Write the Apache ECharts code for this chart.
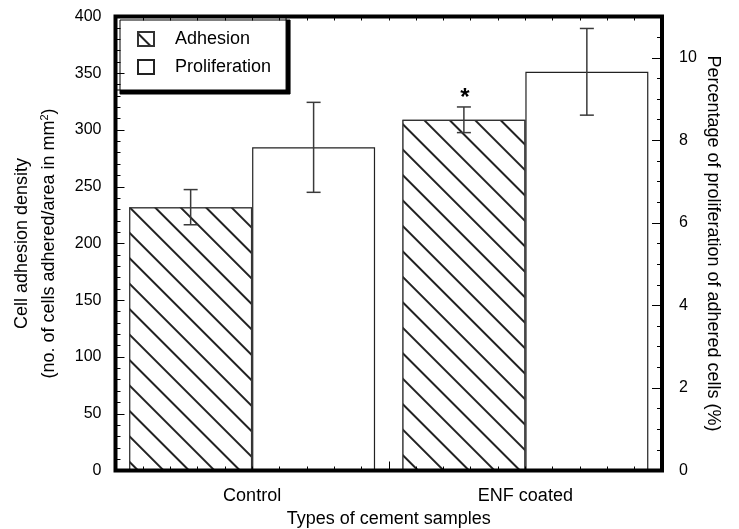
<!DOCTYPE html>
<html>
<head>
<meta charset="utf-8">
<script src="https://cdn.jsdelivr.net/npm/echarts@6/dist/echarts.min.js"></script>
<style>
html,body{margin:0;padding:0;background:#fff;}
#chart{width:739px;height:529px;}
</style>
</head>
<body>
<div id="chart"></div>
<script>
// ---- data ----
const categories = ['Control', 'ENF coated'];
const adhesion = [232, 309];
const adhesionErr = [15.5, 11.3];
const proliferation = [7.83, 9.66];
const proliferationErr = [1.09, 1.05];
const significance = ['', '*'];
const seriesNames = ['Adhesion', 'Proliferation'];
const xTitle = 'Types of cement samples';
const leftTitle1 = 'Cell adhesion density';
const leftTitle2 = '(no. of cells adhered/area in mm';
const rightTitle = 'Percentage of proliferation of adhered cells (%)';

const FONT = 'Liberation Sans, Arial, Helvetica, sans-serif';
const chart = echarts.init(document.getElementById('chart'), null, {renderer: 'canvas'});

const hatch = {
  symbol: 'rect', symbolSize: 1,
  dashArrayX: [1, 0], dashArrayY: [1.2, 15.6],
  rotation: Math.PI / 4,
  color: '#222', backgroundColor: '#fff'
};
const hatchLegend = {
  symbol: 'rect', symbolSize: 1,
  dashArrayX: [1, 0], dashArrayY: [1.2, 30],
  rotation: Math.PI / 4,
  color: '#222', backgroundColor: '#fff'
};

function errRender(sign, marks) {
  return function (params, api) {
    const i = params.dataIndex;
    const cat = api.value(0), v = api.value(1), e = api.value(2);
    const band = api.size([1, 0])[0];
    const x = api.coord([cat, v])[0] + sign * band * 0.225;
    const yT = api.coord([cat, v + e])[1];
    const yB = api.coord([cat, v - e])[1];
    const cap = 7;
    const st = {stroke: '#3a3a3a', lineWidth: 1.5};
    const children = [
      {type: 'line', shape: {x1: x, y1: yT, x2: x, y2: yB}, style: st},
      {type: 'line', shape: {x1: x - cap, y1: yT, x2: x + cap, y2: yT}, style: st},
      {type: 'line', shape: {x1: x - cap, y1: yB, x2: x + cap, y2: yB}, style: st}
    ];
    if (marks && marks[i]) {
      children.push({type: 'text', x: x + 1, y: yT + 3,
        style: {text: marks[i], fill: '#000', font: 'bold 24px ' + FONT, align: 'center', verticalAlign: 'bottom'}});
    }
    return {type: 'group', children: children};
  };
}

const minorXAxis = (pos) => ({
  type: 'value', position: pos, min: 0, max: 20, interval: 1, z: 11,
  axisLine: {show: false, onZero: false}, axisLabel: {show: false}, splitLine: {show: false},
  axisTick: {show: true, inside: true, length: 4, lineStyle: {color: '#000', width: 1}}
});

const option = {
  animation: false,
  backgroundColor: '#fff',
  textStyle: {fontFamily: FONT},
  grid: {left: 115.5, right: 77, top: 16.5, bottom: 58.5, show: true, containLabel: false,
    outerBoundsMode: 'none',
    borderColor: '#000', borderWidth: 4, backgroundColor: 'rgba(0,0,0,0)', z: 12},
  legend: {
    orient: 'vertical', left: 116, top: 16,
    data: [{name: seriesNames[0], itemStyle: {decal: hatchLegend}}, {name: seriesNames[1]}],
    icon: 'rect', itemWidth: 16, itemHeight: 14, itemGap: 10,
    padding: [14, 15, 14, 21],
    backgroundColor: '#fff', borderColor: '#000', borderWidth: 1,
    shadowColor: '#000', shadowBlur: 0, shadowOffsetX: 4, shadowOffsetY: 4,
    textStyle: {fontSize: 18, color: '#000', fontFamily: FONT, padding: [0, 0, 0, 16], lineHeight: 14},
    z: 5
  },
  xAxis: [
    {type: 'category', data: categories, position: 'bottom', z: 11,
      axisLine: {show: false, onZero: false},
      axisTick: {show: true, inside: true, length: 9, lineStyle: {color: '#000', width: 1}},
      axisLabel: {fontSize: 18, color: '#000', margin: 17, fontFamily: FONT},
      name: xTitle, nameLocation: 'middle', nameGap: 39,
      nameTextStyle: {fontSize: 18, color: '#000', fontFamily: FONT}
    },
    minorXAxis('bottom'),
    minorXAxis('top')
  ],
  yAxis: [
    {type: 'value', position: 'left', min: 0, max: 400, interval: 50, z: 11,
      axisLine: {show: false, onZero: false}, splitLine: {show: false},
      axisTick: {show: true, inside: true, length: 9, lineStyle: {color: '#000', width: 1}},
      minorTick: {show: true, splitNumber: 5, length: 5, lineStyle: {color: '#000', width: 1}},
      axisLabel: {fontSize: 16, color: '#000', margin: 14, fontFamily: FONT},
      name: '{a|' + leftTitle1 + '}\n{a|' + leftTitle2 + '}{s|2}{a|)}',
      nameLocation: 'middle', nameRotate: 90, nameGap: 53,
      nameTextStyle: {color: '#000', fontFamily: FONT,
        rich: {a: {fontSize: 18, lineHeight: 27, fontFamily: FONT, color: '#000'},
               s: {fontSize: 11, lineHeight: 27, verticalAlign: 'top', padding: [4, 0, 0, 0], fontFamily: FONT, color: '#000'}}}
    },
    {type: 'value', position: 'right', min: 0, max: 11, interval: 2, z: 11,
      axisLine: {show: false, onZero: false}, splitLine: {show: false},
      axisTick: {show: true, inside: true, length: 10, lineStyle: {color: '#000', width: 1}},
      minorTick: {show: true, splitNumber: 4, length: 5, lineStyle: {color: '#000', width: 1}},
      axisLabel: {fontSize: 16, color: '#000', margin: 17, showMaxLabel: false, fontFamily: FONT},
      name: rightTitle, nameLocation: 'middle', nameRotate: -90, nameGap: 42,
      nameMoveOverlap: false,
      nameTextStyle: {fontSize: 18, color: '#000', fontFamily: FONT}
    }
  ],
  series: [
    {name: seriesNames[0], type: 'bar', yAxisIndex: 0, data: adhesion,
      barWidth: '45%', barGap: '0%',
      itemStyle: {color: '#fff', borderColor: '#333', borderWidth: 1.2, decal: hatch}},
    {name: seriesNames[1], type: 'bar', yAxisIndex: 1, data: proliferation,
      barWidth: '45%', barGap: '0%',
      itemStyle: {color: '#fff', borderColor: '#222', borderWidth: 1.2}},
    {name: 'adhErr', type: 'custom', yAxisIndex: 0, z: 6,
      data: adhesion.map((v, i) => [i, v, adhesionErr[i]]),
      encode: {x: 0, y: 1},
      renderItem: errRender(-1, significance)},
    {name: 'proErr', type: 'custom', yAxisIndex: 1, z: 6,
      data: proliferation.map((v, i) => [i, v, proliferationErr[i]]),
      encode: {x: 0, y: 1},
      renderItem: errRender(1, null)}
  ]
};
chart.setOption(option);
</script>
</body>
</html>
